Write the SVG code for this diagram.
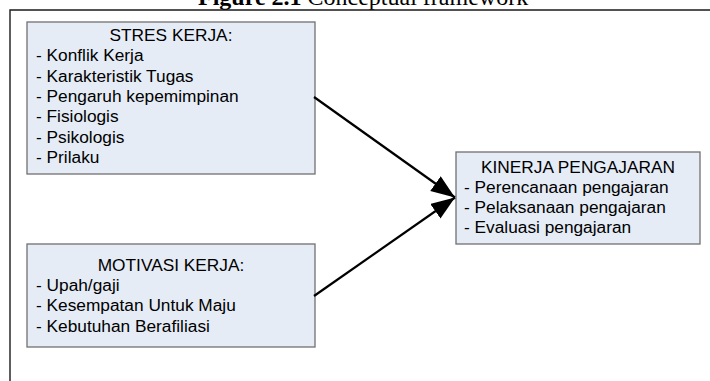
<svg xmlns="http://www.w3.org/2000/svg" width="710" height="381" viewBox="0 0 710 381">
<defs>
<style>
.box{fill:#E5ECF6;stroke:#707070;stroke-width:1.3}
.t{font-family:"Liberation Sans",Arial,sans-serif;font-size:17.3px;fill:#000}
.c{text-anchor:middle}
.frame{stroke:#1a1a1a;stroke-width:1.4;fill:none}
.conn{stroke:#000;stroke-width:2.2;fill:none}
.title{font-family:"Liberation Serif","Times New Roman",serif;font-size:24px;fill:#000}
</style>
<marker id="ah" markerUnits="userSpaceOnUse" markerWidth="26" markerHeight="20" refX="24" refY="9" orient="auto">
<path d="M0,0 L24,9 L0,18 Z" fill="#000"/>
</marker>
</defs>
<rect width="710" height="381" fill="#fff"/>
<text class="title" x="198" y="5"><tspan font-weight="bold">Figure 2.1</tspan> Conceptual framework</text>
<path class="frame" d="M10,381 L10,10 L710,10"/>
<g id="stres">
<rect class="box" x="27" y="22" width="288" height="152"/>
<text class="t c" x="171" y="41">STRES KERJA:</text>
<text class="t" x="36" y="61.3">- Konflik Kerja</text>
<text class="t" x="36" y="81.6">- Karakteristik Tugas</text>
<text class="t" x="36" y="101.9">- Pengaruh kepemimpinan</text>
<text class="t" x="36" y="122.2">- Fisiologis</text>
<text class="t" x="36" y="142.5">- Psikologis</text>
<text class="t" x="36" y="162.8">- Prilaku</text>
</g>
<g id="motivasi">
<rect class="box" x="27" y="244" width="288" height="103"/>
<text class="t c" x="171" y="270.7">MOTIVASI KERJA:</text>
<text class="t" x="36" y="291">- Upah/gaji</text>
<text class="t" x="36" y="311.3">- Kesempatan Untuk Maju</text>
<text class="t" x="36" y="331.6">- Kebutuhan Berafiliasi</text>
</g>
<g id="kinerja">
<rect class="box" x="456" y="152" width="244" height="92"/>
<text class="t c" x="578" y="172.7">KINERJA PENGAJARAN</text>
<text class="t" x="464" y="193">- Perencanaan pengajaran</text>
<text class="t" x="464" y="213.3">- Pelaksanaan pengajaran</text>
<text class="t" x="464" y="233.3">- Evaluasi pengajaran</text>
</g>
<g id="connectors">
<line class="conn" x1="314" y1="97" x2="455" y2="197.5" marker-end="url(#ah)"/>
<line class="conn" x1="314" y1="296" x2="455" y2="197.5" marker-end="url(#ah)"/>
</g>
</svg>
